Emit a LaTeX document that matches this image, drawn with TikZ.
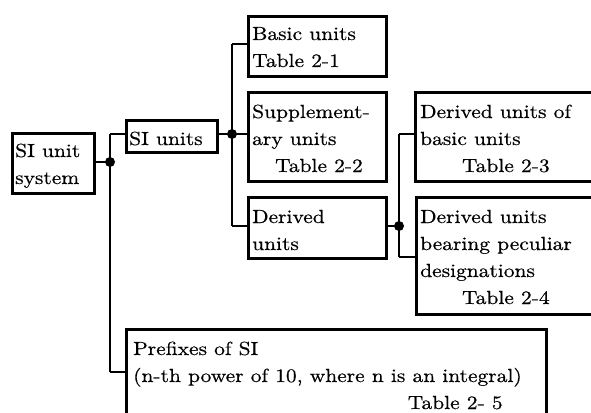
\documentclass[tikz,border=0pt]{standalone}
\usepackage{fontspec}
\usepackage{graphicx}
\setmainfont{lmroman10-regular.otf}[BoldFont=lmroman10-regular.otf, BoldFeatures={FakeBold=0.45}]
\newcommand\mylines[1]{\scalebox{1.13}[1]{\vtop{\baselineskip=27pt\lineskiplimit=-100pt #1}}}
\tikzset{
  ubox/.style={draw, line width=2.8pt, anchor=north west, inner sep=0pt},
  utext/.style={anchor=base west, inner sep=0pt, font=\fontsize{19}{27}\selectfont\bfseries},
  conn/.style={line width=2.8pt},
  jdot/.style={circle, fill, inner sep=0pt, minimum size=10pt},
}
\begin{document}
\begin{tikzpicture}[x=1pt,y=-1pt]
\useasboundingbox (0,0) rectangle (591,412);
\clip (0,0) rectangle (591,412);
% boxes
\node[ubox, minimum width=82pt, minimum height=60pt] (sys) at (11,132) {};
\node[ubox, minimum width=91pt, minimum height=32pt] (siu) at (125,119) {};
\node[ubox, minimum width=138pt, minimum height=60pt] (basic) at (247,15) {};
\node[ubox, minimum width=138pt, minimum height=89pt] (supp) at (247,91) {};
\node[ubox, minimum width=138pt, minimum height=61pt] (der) at (247,196) {};
\node[ubox, minimum width=200pt, minimum height=89pt] (dbu) at (414,91) {};
\node[ubox, minimum width=200pt, minimum height=117pt] (dpd) at (415,196) {};
\node[ubox, minimum width=420pt, minimum height=110pt] (pre) at (125,328) {};
% texts
\node[utext] (tsys) at (15,157) {\mylines{\hbox{SI unit}\hbox{system}}};
\node[utext] (tsiu) at (129,145) {\mylines{\hbox{SI units}}};
\node[utext] (tbasic) at (252,40) {\mylines{\hbox{Basic units}\hbox{Table 2-1}}};
\node[utext] (tsupp) at (252,118) {\mylines{\hbox{Supplement-}\hbox{ary units}\hbox{\hspace*{20.3pt}Table 2-2}}};
\node[utext] (tder) at (252,223) {\mylines{\hbox{Derived}\hbox{units}}};
\node[utext] (tdbu) at (420,118) {\mylines{\hbox{Derived units of}\hbox{basic units}\hbox{\hspace*{37pt}Table 2-3}}};
\node[utext] (tdpd) at (420,223) {\mylines{\hbox{Derived units}\hbox{bearing peculiar}\hbox{designations}\hbox{\hspace*{37pt}Table 2-4}}};
\node[utext] (tpre) at (133,355) {\mylines{\hbox{Prefixes of SI}\hbox{(n-th power of 10, where n is an integral)}\hbox{\hspace*{243pt}Table 2- 5}}};
% junctions
\node[jdot] (j1) at (110,162) {};
\node[jdot] (j2) at (232,134) {};
\node[jdot] (j3) at (399,226) {};
\coordinate (j1t) at (110,134);
\coordinate (j1b) at (110,372);
\coordinate (j2t) at (232,44);
\coordinate (j2b) at (232,226);
\coordinate (j3t) at (399,134);
\coordinate (j3b) at (399,257);
% connectors
\draw[conn] (sys.east |- j1) -- (j1.center);
\draw[conn] (j1t) -- (j1b);
\draw[conn] (j1t) -- (siu.west |- j1t);
\draw[conn] (j1b) -- (pre.west |- j1b);
\draw[conn] (siu.east |- j2) -- (j2.center);
\draw[conn] (j2t) -- (j2b);
\draw[conn] (j2t) -- (basic.west |- j2t);
\draw[conn] (j2.center) -- (supp.west |- j2);
\draw[conn] (j2b) -- (der.west |- j2b);
\draw[conn] (der.east |- j3) -- (j3.center);
\draw[conn] (j3t) -- (j3b);
\draw[conn] (j3t) -- (dbu.west |- j3t);
\draw[conn] (j3b) -- (dpd.west |- j3b);
\end{tikzpicture}
\end{document}
